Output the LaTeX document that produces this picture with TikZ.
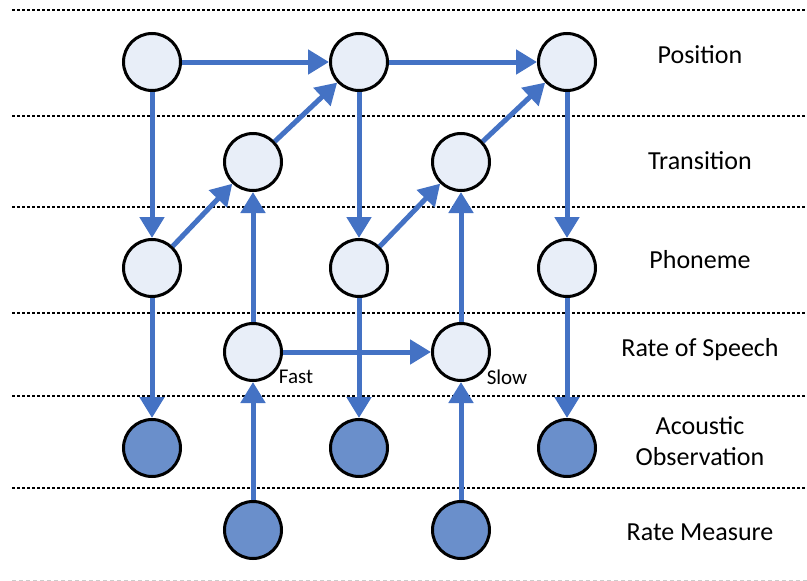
\documentclass[tikz,border=0pt]{standalone}
\usepackage{fontspec}
\setmainfont{Carlito}
\usetikzlibrary{arrows.meta}
\definecolor{edgeblue}{HTML}{4472C4}
\definecolor{hidfill}{HTML}{E8EEF8}
\definecolor{obsfill}{HTML}{6A8FCB}
\tikzset{
  hidden/.style={circle, draw=black, line width=3pt, fill=hidfill, minimum size=57pt, inner sep=0pt},
  observed/.style={hidden, fill=obsfill},
  link/.style={draw=edgeblue, line width=5pt, -{Triangle[width=24pt,length=21pt]}},
  divider/.style={draw=black, line width=1.5pt, dash pattern=on 3pt off 2pt},
  rowlabel/.style={font=\fontsize{26}{31}\selectfont, align=center},
  ratelabel/.style={font=\fontsize{21}{25}\selectfont, anchor=center}
}
\begin{document}
\begin{tikzpicture}[x=1pt, y=-1pt]
  \useasboundingbox (0,0) rectangle (807,581);

  % layer dividers
  \foreach \yy in {10,116,207,313,396,488}
    \draw[divider] (12,\yy) -- (807,\yy);
  \draw[gray!40, line width=1pt, dash pattern=on 4pt off 3pt] (12,580) -- (807,580);

  % hidden nodes
  \node[hidden] (p1) at (152,62) {};
  \node[hidden] (p2) at (359,62) {};
  \node[hidden] (p3) at (567,62) {};
  \node[hidden] (t1) at (253,162) {};
  \node[hidden] (t2) at (461,162) {};
  \node[hidden] (f1) at (152,268) {};
  \node[hidden] (f2) at (359,268) {};
  \node[hidden] (f3) at (567,268) {};
  \node[hidden] (r1) at (253,352) {};
  \node[hidden] (r2) at (461,352) {};

  % observed nodes
  \node[observed] (a1) at (152,448) {};
  \node[observed] (a2) at (359,448) {};
  \node[observed] (a3) at (567,448) {};
  \node[observed] (m1) at (253,530) {};
  \node[observed] (m2) at (461,530) {};

  % dependencies
  \draw[link] (p1) -- (p2);
  \draw[link] (p2) -- (p3);
  \draw[link] (p1) -- (f1);
  \draw[link] (p2) -- (f2);
  \draw[link] (p3) -- (f3);
  \draw[link] (f1) -- (t1);
  \draw[link] (t1) -- (p2);
  \draw[link] (f2) -- (t2);
  \draw[link] (t2) -- (p3);
  \draw[link] (r1) -- (r2);
  \draw[link] (r1) -- (t1);
  \draw[link] (r2) -- (t2);
  \draw[link] (f1) -- (a1);
  \draw[link] (f2) -- (a2);
  \draw[link] (f3) -- (a3);
  \draw[link] (m1) -- (r1);
  \draw[link] (m2) -- (r2);

  % speech rate tags
  \node[ratelabel] (fast) at (296,377) {Fast};
  \node[ratelabel] (slow) at (507,377) {Slow};

  % layer names
  \node[rowlabel] (lpos) at (700,55) {Position};
  \node[rowlabel] (ltra) at (700,161) {Transition};
  \node[rowlabel] (lpho) at (700,260) {Phoneme};
  \node[rowlabel] (lrat) at (700,350) {Rate of Speech};
  \node[rowlabel] (lobs) at (700,441) {Acoustic\\Observation};
  \node[rowlabel] (lmea) at (700,532) {Rate Measure};
\end{tikzpicture}
\end{document}
